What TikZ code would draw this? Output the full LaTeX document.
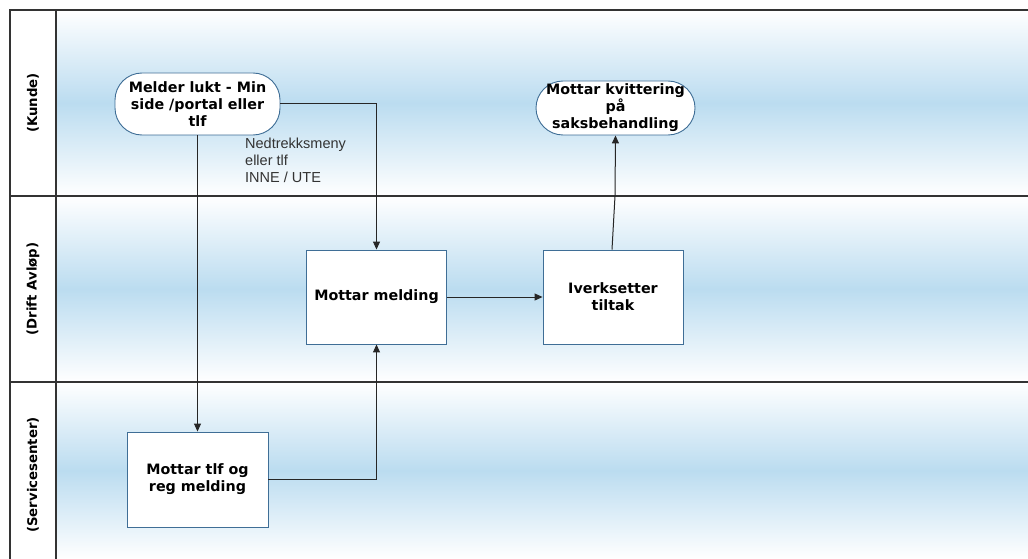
\documentclass[tikz,border=0pt]{standalone}
\usepackage{fontspec}
\setsansfont{DejaVu Sans}
\newfontfamily\notefont{Liberation Sans}
\usepackage{tikz}
\usetikzlibrary{arrows.meta}

\definecolor{laneblue}{HTML}{BBDCF0}
\definecolor{boxline}{HTML}{3F6E96}
\definecolor{frameline}{HTML}{333333}

\begin{document}
\begin{tikzpicture}[x=1pt,y=-1pt,
    stepbox/.style={draw=boxline,fill=white,line width=0.9pt,minimum width=140pt,minimum height=94pt,
      align=center,inner sep=0pt,font=\sffamily\bfseries\fontsize{14.3}{17}\selectfont},
    endbox/.style={draw=boxline,fill=white,line width=0.9pt,rounded corners=27pt,inner sep=0pt,
      align=center,font=\sffamily\bfseries\fontsize{14.3}{17}\selectfont},
    lanename/.style={rotate=90,font=\sffamily\bfseries\fontsize{13.3}{15}\selectfont},
    flow/.style={draw=black!85,line width=1pt,-{Triangle[length=8pt,width=7pt]}}]
    \useasboundingbox (0,0) rectangle (1028,559);
    % lanes
    \shade[top color=white,bottom color=white,middle color=laneblue] (56,10) rectangle (1028,196);
    \shade[top color=white,bottom color=white,middle color=laneblue] (56,196) rectangle (1028,382);
    \shade[top color=white,bottom color=white,middle color=laneblue] (56,382) rectangle (1028,559);
    \draw[frameline,line width=1.3pt] (1030,10) -- (10,10) -- (10,560);
    \draw[frameline,line width=1.3pt] (56,10) -- (56,560);
    \draw[frameline,line width=1.3pt] (10,196) -- (1030,196);
    \draw[frameline,line width=1.3pt] (10,382) -- (1030,382);
    \node[lanename] (kunde) at (33,103) {(Kunde)};
    \node[lanename] (drift) at (33,289) {(Drift Avløp)};
    \node[lanename] (service) at (33,475) {(Servicesenter)};

    % steps
    \node[endbox,minimum width=165pt,minimum height=62pt] (melder) at (197.5,104)
      {Melder lukt - Min\\side /portal eller\\tlf};
    \node[endbox,minimum width=159pt,minimum height=54pt] (kvittering) at (615.5,108)
      {Mottar kvittering\\på\\saksbehandling};
    \node[stepbox] (mottar) at (376.5,297) {Mottar melding};
    \node[stepbox] (tiltak) at (613,297) {Iverksetter\\tiltak};
    \node[stepbox,minimum width=141pt,minimum height=95pt] (tlf) at (197.5,479.5) {Mottar tlf og\\reg melding};

    \node[align=left,anchor=north west,inner sep=0pt,text=black!80,
      font=\notefont\fontsize{14.5}{17}\selectfont] (valg) at (245,138) {Nedtrekksmeny\\eller tlf\\INNE / UTE};

    % flows
    \draw[flow] (melder.south) -- (tlf.north);
    \draw[flow] (melder.east) -| (mottar.north);
    \draw[flow] (tlf.east) -| (mottar.south);
    \draw[flow] (mottar.east) -- (tiltak.west);
    \draw[flow] ([xshift=-1pt]tiltak.north) -- ([xshift=2pt]tiltak.north |- 0,196) -- (kvittering.south);
\end{tikzpicture}
\end{document}
